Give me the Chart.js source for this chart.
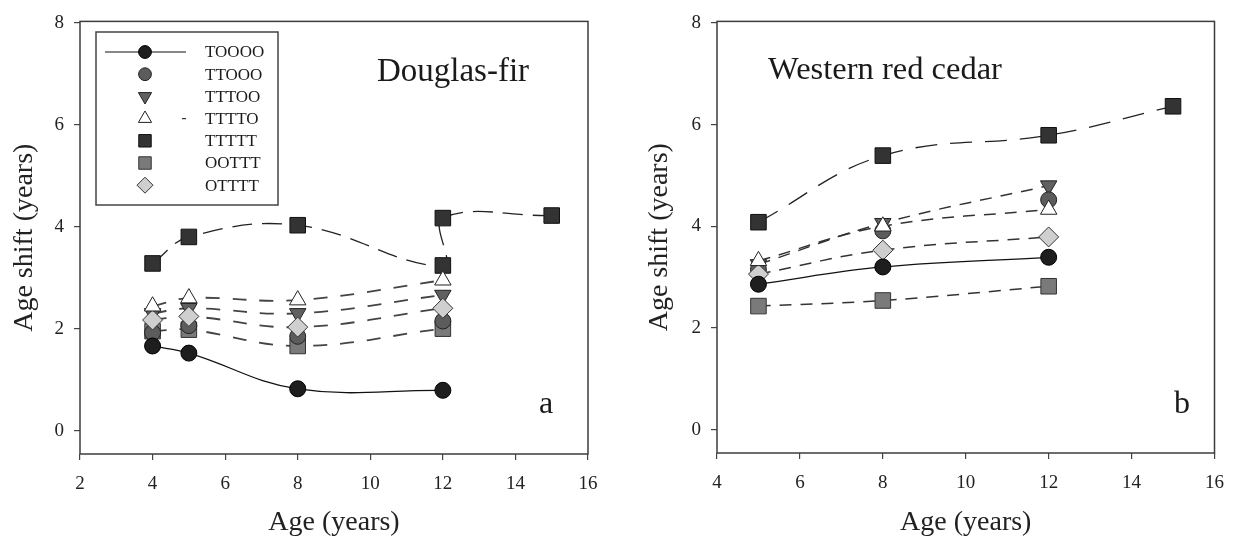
<!DOCTYPE html>
<html>
<head>
<meta charset="utf-8">
<title>Age shift by age</title>
<script src="https://cdn.jsdelivr.net/npm/chart.js@4.4.1/dist/chart.umd.min.js"></script>
<style>
  html, body { margin:0; padding:0; background:#fff; }
  #wrap { position:relative; width:1237px; height:543px; }
  .panel { position:absolute; top:0; height:543px; }
  #panelA { left:0; width:620px; }
  #panelB { left:620px; width:617px; }
</style>
</head>
<body>
<div id="wrap">
  <div class="panel" id="panelA"><canvas id="firChart"></canvas></div>
  <div class="panel" id="panelB"><canvas id="cedarChart"></canvas></div>
</div>
<script>
// series names (legend order)
const seriesNames = ['TOOOO','TTOOO','TTTOO','TTTTO','TTTTT','OOTTT','OTTTT'];

// Douglas-fir (panel a)
const firAges = [4, 5, 8, 12];
const firTOOOO = [1.66, 1.52, 0.82, 0.79];
const firTTOOO = [1.92, 2.06, 1.85, 2.15];
const firTTTOO = [2.30, 2.40, 2.30, 2.66];
const firTTTTO = [2.44, 2.60, 2.56, 2.95];
const firTTTTTAges = [4, 5, 8, 12, 12, 15];
const firTTTTT = [3.28, 3.80, 4.03, 3.24, 4.17, 4.22];
const firOOTTT = [1.95, 1.98, 1.66, 2.00];
const firOTTTT = [2.17, 2.24, 2.03, 2.40];

// Western red cedar (panel b)
const cedarAges = [5, 8, 12];
const cedarTOOOO = [2.86, 3.20, 3.39];
const cedarTTOOO = [3.15, 3.91, 4.52];
const cedarTTTOO = [3.25, 4.06, 4.80];
const cedarTTTTO = [3.32, 4.00, 4.33];
const cedarTTTTTAges = [5, 8, 12, 15];
const cedarTTTTT = [4.08, 5.39, 5.79, 6.36];
const cedarOOTTT = [2.43, 2.54, 2.82];
const cedarOTTTT = [3.06, 3.53, 3.79];

// tick labels
const firXTicks = [2, 4, 6, 8, 10, 12, 14, 16];
const cedarXTicks = [4, 6, 8, 10, 12, 14, 16];
const yTicks = [0, 2, 4, 6, 8];

const FONT = '"Liberation Serif", "Times New Roman", serif';

// marker look per series
const markerStyles = {
  TOOOO: {pointStyle:'circle',   rotation:0,   radius:8,    fill:'#1e1e1e', border:'#000'},
  TTOOO: {pointStyle:'circle',   rotation:0,   radius:8,    fill:'#5c5c5c', border:'#222'},
  TTTOO: {pointStyle:'triangle', rotation:180, radius:9.5,  fill:'#606060', border:'#222'},
  TTTTO: {pointStyle:'triangle', rotation:0,   radius:9.5,  fill:'#ffffff', border:'#222'},
  TTTTT: {pointStyle:'rect',     rotation:0,   radius:11,   fill:'#333333', border:'#111'},
  OOTTT: {pointStyle:'rect',     rotation:0,   radius:11,   fill:'#7a7a7a', border:'#333'},
  OTTTT: {pointStyle:'rectRot',  rotation:0,   radius:10,   fill:'#cfcfcf', border:'#333'}
};

function makeSet(name, xs, ys, line, order){
  const m = markerStyles[name];
  return {
    label: name,
    data: xs.map((x, i) => ({x: x, y: ys[i]})),
    showLine: !!line,
    borderColor: line ? line.color : m.border,
    borderWidth: line ? line.width : 0,
    borderDash: line ? line.dash : [],
    tension: 0.4,
    fill: false,
    pointStyle: m.pointStyle,
    pointRotation: m.rotation,
    pointRadius: m.radius,
    pointHoverRadius: m.radius,
    pointBackgroundColor: m.fill,
    pointBorderColor: m.border,
    pointBorderWidth: 1,
    order: order
  };
}

function drawMarker(ctx, m, x, y, r){
  ctx.beginPath();
  if (m.pointStyle === 'circle') {
    ctx.arc(x, y, r, 0, Math.PI * 2);
  } else if (m.pointStyle === 'rect') {
    const s = r * Math.SQRT1_2;
    ctx.rect(x - s, y - s, 2 * s, 2 * s);
  } else if (m.pointStyle === 'rectRot') {
    ctx.moveTo(x, y - r); ctx.lineTo(x + r, y); ctx.lineTo(x, y + r); ctx.lineTo(x - r, y);
    ctx.closePath();
  } else {
    let rad = m.rotation * Math.PI / 180;
    for (let k = 0; k < 3; k++) {
      const px = x + Math.sin(rad) * r, py = y - Math.cos(rad) * r;
      if (k === 0) ctx.moveTo(px, py); else ctx.lineTo(px, py);
      rad += 2 * Math.PI / 3;
    }
    ctx.closePath();
  }
  ctx.fillStyle = m.fill; ctx.fill();
  ctx.strokeStyle = m.border; ctx.lineWidth = 1; ctx.stroke();
}

// frame round the plot area, panel texts, optional legend box
function panelPlugin(texts, withLegend){
  return {
    id: 'panelDeco',
    beforeDatasetsDraw(chart){
      const {ctx, chartArea: a} = chart;
      ctx.save();
      ctx.strokeStyle = '#3c3c3c'; ctx.lineWidth = 1.5;
      ctx.strokeRect(a.left, a.top, a.right - a.left, a.bottom - a.top);
      ctx.restore();
    },
    afterDraw(chart){
      const ctx = chart.ctx;
      ctx.save();
      ctx.fillStyle = '#1a1a1a';
      ctx.textBaseline = 'middle';
      texts.forEach(t => {
        ctx.font = t.size + 'px ' + FONT;
        ctx.textAlign = 'center';
        ctx.fillText(t.text, t.x, t.y);
      });
      if (withLegend) {
        ctx.strokeStyle = '#444'; ctx.lineWidth = 1.5;
        ctx.strokeRect(96, 32, 182, 173);
        seriesNames.forEach((name, i) => {
          const y = 52 + i * 22.2;
          if (name === 'TOOOO') {
            ctx.beginPath(); ctx.moveTo(105, y); ctx.lineTo(186, y);
            ctx.strokeStyle = '#111'; ctx.lineWidth = 1.2; ctx.stroke();
          }
          if (name === 'TTTTO') {
            ctx.beginPath(); ctx.moveTo(182, y); ctx.lineTo(186, y);
            ctx.strokeStyle = '#333'; ctx.lineWidth = 1.2; ctx.stroke();
          }
          const m = markerStyles[name];
          drawMarker(ctx, m, 145, y, m.radius * 0.8);
          ctx.fillStyle = '#1a1a1a';
          ctx.font = '17px ' + FONT;
          ctx.textAlign = 'left';
          ctx.fillText(name, 205, y + 1);
        });
      }
      ctx.restore();
    }
  };
}

function axisOptions(xTicks, xMin, xMax, yWidth, xHeight){
  const tickFont = {family: FONT, size: 19};
  const titleFont = {family: FONT, size: 28};
  return {
    x: {
      type: 'linear', min: xMin, max: xMax,
      afterBuildTicks: s => { s.ticks = xTicks.map(v => ({value: v})); },
      afterFit: s => { s.height = xHeight; },
      grid: {drawOnChartArea: false, drawTicks: true, tickLength: 6, color: '#444', lineWidth: 1.2},
      border: {display: false},
      ticks: {font: tickFont, color: '#222', padding: 13, maxRotation: 0},
      title: {display: true, text: 'Age (years)', font: titleFont, color: '#222', padding: {top: 0, bottom: 2}}
    },
    y: {
      type: 'linear', min: -0.46, max: 8.03,
      afterBuildTicks: s => { s.ticks = yTicks.map(v => ({value: v})); },
      afterFit: s => { s.width = yWidth; },
      grid: {drawOnChartArea: false, drawTicks: true, tickLength: 6, color: '#444', lineWidth: 1.2},
      border: {display: false},
      ticks: {font: tickFont, color: '#222', padding: 10},
      title: {display: true, text: 'Age shift (years)', font: titleFont, color: '#222', padding: {top: 0, bottom: 0}}
    }
  };
}

const dashLong = {color:'#222', width:1.3, dash:[20, 10]};
const dashMid = {color:'#444', width:1.8, dash:[14, 13]};
const solid = {color:'#111', width:1.3, dash:[]};

new Chart(document.getElementById('firChart'), {
  type: 'line',
  data: {datasets: [
    makeSet('TOOOO', firAges, firTOOOO, solid, 1),
    makeSet('TTOOO', firAges, firTTOOO, null, 6),
    makeSet('TTTOO', firAges, firTTTOO, dashMid, 5),
    makeSet('TTTTO', firAges, firTTTTO, dashMid, 2),
    makeSet('TTTTT', firTTTTTAges, firTTTTT, dashLong, 3),
    makeSet('OOTTT', firAges, firOOTTT, dashMid, 7),
    makeSet('OTTTT', firAges, firOTTTT, dashMid, 4)
  ]},
  options: {
    responsive: true, maintainAspectRatio: false, animation: false,
    layout: {padding: {top: 15, right: 32, left: 8, bottom: 2}},
    plugins: {legend: {display: false}, tooltip: {enabled: false}},
    scales: axisOptions(firXTicks, 2, 16, 72, 87)
  },
  plugins: [panelPlugin([
    {text: 'Douglas-fir', x: 453, y: 72, size: 33},
    {text: 'a', x: 546, y: 405, size: 32}
  ], true)]
});

const cedarDashLong = {color:'#222', width:1.3, dash:[22, 13]};
const cedarDash = {color:'#333', width:1.5, dash:[12, 9]};

new Chart(document.getElementById('cedarChart'), {
  type: 'line',
  data: {datasets: [
    makeSet('TOOOO', cedarAges, cedarTOOOO, solid, 3),
    makeSet('TTOOO', cedarAges, cedarTTOOO, null, 5),
    makeSet('TTTOO', cedarAges, cedarTTTOO, cedarDash, 6),
    makeSet('TTTTO', cedarAges, cedarTTTTO, cedarDash, 2),
    makeSet('TTTTT', cedarTTTTTAges, cedarTTTTT, cedarDashLong, 1),
    makeSet('OOTTT', cedarAges, cedarOOTTT, cedarDash, 7),
    makeSet('OTTTT', cedarAges, cedarOTTTT, cedarDash, 4)
  ]},
  options: {
    responsive: true, maintainAspectRatio: false, animation: false,
    layout: {padding: {top: 15, right: 16, left: 23, bottom: 2}},
    plugins: {legend: {display: false}, tooltip: {enabled: false}},
    scales: axisOptions(cedarXTicks, 4, 16, 74, 88)
  },
  plugins: [panelPlugin([
    {text: 'Western red cedar', x: 265, y: 70, size: 32.5},
    {text: 'b', x: 562, y: 405, size: 32}
  ], false)]
});
</script>
</body>
</html>
